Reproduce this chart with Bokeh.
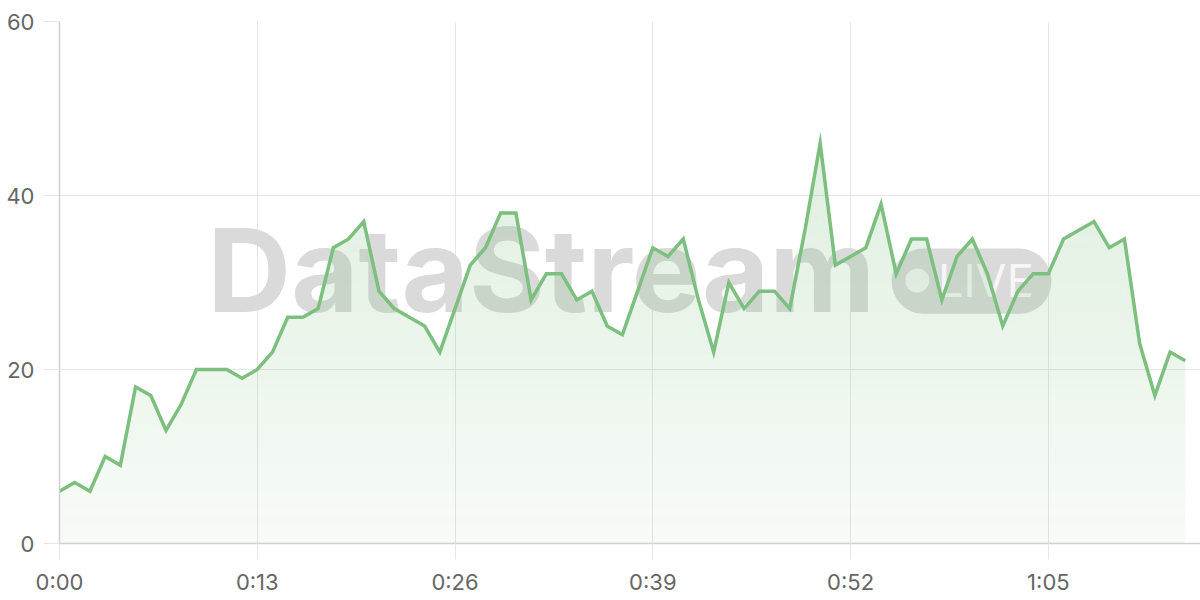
import numpy as np
from bokeh.plotting import figure
from bokeh.models import Range1d, FixedTicker, Label, BoxAnnotation
from bokeh.embed import file_html
from bokeh.resources import INLINE

# ---- data ----
seconds = list(range(75))
viewers = [6, 7, 6, 10, 9, 18, 17, 13, 16, 20,
           20, 20, 19, 20, 22, 26, 26, 27, 34, 35,
           37, 29, 27, 26, 25, 22, 27, 32, 34, 38,
           38, 28, 31, 31, 28, 29, 25, 24, 29, 34,
           33, 35, 28, 22, 30, 27, 29, 29, 27, 36,
           46, 32, 33, 34, 39, 31, 35, 35, 28, 33,
           35, 31, 25, 29, 31, 31, 35, 36, 37, 34,
           35, 23, 17, 22, 21]
x_tick_values = [0, 13, 26, 39, 52, 65]
x_tick_labels = ["0:00", "0:13", "0:26", "0:39", "0:52", "1:05"]
y_tick_values = [0, 20, 40, 60]

GREEN = "#7cbf7e"
FONT = "Inter"

p = figure(width=1200, height=600,
           x_range=Range1d(0, 75), y_range=Range1d(0, 60),
           output_backend="svg", toolbar_location=None,
           min_border_left=59, min_border_right=0,
           min_border_top=21, min_border_bottom=57)
p.outline_line_color = None
p.background_fill_color = "white"
p.border_fill_color = "white"

# ---- watermark (behind the data) ----
p.add_layout(Label(x=9.72, y=31.4, text="DataStream", text_font=FONT,
                   text_font_size="116px", text_font_style="bold",
                   text_color="#dadada", text_baseline="alphabetic",
                   level="underlay"))
p.add_layout(BoxAnnotation(left=54.7, right=65.2, top=33.9, bottom=26.4,
                           fill_color="#dadada", fill_alpha=1.0,
                           line_color=None, border_radius=32,
                           level="underlay"))
p.add_layout(BoxAnnotation(left=55.6, right=57.17, top=31.6, bottom=28.84,
                           fill_color="#f6f6f6", fill_alpha=1.0,
                           line_color=None, border_radius=12,
                           level="underlay"))
p.add_layout(Label(x=57.75, y=30.2, text="LIVE", text_font=FONT,
                   text_font_size="45px", text_color="#f6f6f6",
                   text_baseline="alphabetic", level="underlay"))

# ---- vertical gradient under the line: thin, non-overlapping bands ----
vals = np.array(viewers, dtype=float)
band = 30.0 / 87.0          # 3 px per band (60 units = 522 px)
levels = np.arange(0, 60 + band / 2, band)
for lo, hi in zip(levels[:-1], levels[1:]):
    if lo >= vals.max():
        break
    mid = (lo + hi) / 2
    a = 0.06 + 0.24 * mid / 60.0
    p.varea(x=seconds, y1=np.minimum(vals, lo), y2=np.minimum(vals, hi),
            fill_color=GREEN, fill_alpha=a)

p.line(seconds, viewers, line_color=GREEN, line_width=3.5, line_join="miter")

# ---- axes & grid ----
for ax in (p.xaxis[0], p.yaxis[0]):
    ax.axis_line_color = "#d0d0d0"
    ax.axis_line_width = 1.5
    ax.major_tick_line_color = "#e6e6e6"
    ax.major_tick_in = 0
    ax.major_tick_out = 16
    ax.minor_tick_line_color = None
    ax.major_label_text_font = FONT
    ax.major_label_text_font_size = "22px"
    ax.major_label_text_color = "#666666"

p.xaxis.ticker = FixedTicker(ticks=x_tick_values)
p.xaxis.major_label_overrides = {v: l for v, l in zip(x_tick_values, x_tick_labels)}
p.xaxis.major_label_standoff = 9
p.yaxis.ticker = FixedTicker(ticks=y_tick_values)
p.yaxis.major_label_standoff = 9

p.xgrid.grid_line_color = "#e6e6e6"
p.ygrid.grid_line_color = "#e6e6e6"
p.xgrid.grid_line_width = 1
p.ygrid.grid_line_width = 1

open("out.html", "w").write(file_html(p, INLINE))
